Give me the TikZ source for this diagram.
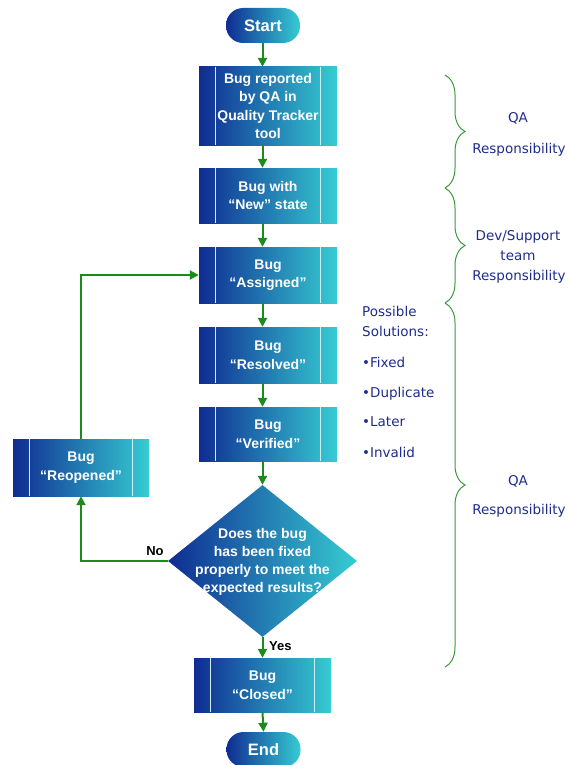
\documentclass[tikz,border=0pt]{standalone}
\usepackage{fontspec}
\setmainfont{Liberation Sans}
\newfontfamily\notefont{DejaVu Sans}
\usetikzlibrary{shapes.geometric,arrows.meta,decorations.pathreplacing}

\definecolor{bugdark}{HTML}{0F2C92}
\definecolor{bugcyan}{HTML}{36CCD2}
\definecolor{flowgreen}{HTML}{1C8A1C}
\definecolor{bracegreen}{HTML}{3C9A3C}
\definecolor{notenavy}{HTML}{1E2C8E}

\tikzset{
    bugbox/.style={rectangle, minimum width=138pt, minimum height=#1, inner sep=0pt,
        left color=bugdark, right color=bugcyan, text=white, align=center,
        font=\bfseries\fontsize{14}{18.5}\selectfont,
        path picture={
            \draw[white!80!cyan, line width=1.2pt] ([xshift=16.5pt]path picture bounding box.north west) -- ([xshift=16.5pt]path picture bounding box.south west);
            \draw[white!80!cyan, line width=1.2pt] ([xshift=-16.5pt]path picture bounding box.north east) -- ([xshift=-16.5pt]path picture bounding box.south east);
        }},
    terminal/.style={rectangle, rounded corners=17pt, minimum width=74pt, minimum height=35pt,
        left color=bugdark, right color=bugcyan, text=white,
        font=\bfseries\fontsize{16.5}{18}\selectfont},
    decision/.style={diamond, minimum width=189pt, minimum height=152pt, inner sep=0pt,
        left color=bugdark, right color=bugcyan},
    decisiontext/.style={text=white, align=center, font=\bfseries\fontsize{14}{18}\selectfont},
    flow/.style={draw=flowgreen, line width=2pt, -{Triangle[width=9pt,length=9pt]}},
    answer/.style={font=\bfseries\fontsize{13}{15}\selectfont, inner sep=1pt},
    note/.style={text=notenavy, font=\notefont\fontsize{13.5}{20}\selectfont, inner sep=0pt},
    respbrace/.style={draw=bracegreen, line width=1pt, decorate, decoration={brace, amplitude=20pt}}
}

\begin{document}
\begin{tikzpicture}[x=1pt, y=-1pt]
        \useasboundingbox (0,0) rectangle (568,765);

        \node[terminal] (start) at (263,25.5) {Start};
        \node[bugbox=78pt] (reported) at (268,106) {Bug reported\\by QA in\\Quality Tracker\\tool};
        \node[bugbox=55pt] (new) at (268,195.5) {Bug with\\“New” state};
        \node[bugbox=56pt] (assigned) at (268,275) {Bug\\“Assigned”};
        \node[bugbox=56pt] (resolved) at (268,355) {Bug\\“Resolved”};
        \node[bugbox=54pt] (verified) at (268,434) {Bug\\“Verified”};
        \node[decision] (check) at (262.5,561) {};
        \node[decisiontext] (checktext) at (262.5,562) {Does the bug\\has been fixed\\properly to meet the\\expected results?};
        \node[bugbox=57pt, minimum width=136pt] (reopened) at (81,467.5) {Bug\\“Reopened”};
        \node[bugbox=54pt, minimum width=137pt] (closed) at (262.5,685) {Bug\\“Closed”};
        \node[terminal] (end) at (263.5,749.5) {End};
        \coordinate (spine) at (262.5,0);

        \draw[flow] (spine |- start.south) -- (spine |- reported.north);
        \draw[flow] (spine |- reported.south) -- (spine |- new.north);
        \draw[flow] (spine |- new.south) -- (spine |- assigned.north);
        \draw[flow] (spine |- assigned.south) -- (spine |- resolved.north);
        \draw[flow] (spine |- resolved.south) -- (spine |- verified.north);
        \draw[flow] (spine |- verified.south) -- (check.north);
        \draw[flow] (check.south) -- (closed.north);
        \draw[flow] (closed.south) -- (end.north);
        \draw[flow] (check.west) -| (reopened.south);
        \draw[flow] (reopened.north) |- (assigned.west);

        \node[answer, anchor=south east] (no) at ([xshift=-3pt,yshift=4pt]check.west) {No};
        \node[answer, anchor=west] (yes) at ([xshift=5.5pt,yshift=-9pt]check.south) {Yes};

        %responsibilities
        \draw[respbrace] (445,75) -- (445,188);
        \draw[respbrace] (445,188) -- (445,303);
        \draw[respbrace] (445,303) -- (445,667);

        \node[note, anchor=base] (qa1) at (518,123) {QA};
        \node[note, anchor=base] (resp1) at (519,153) {Responsibility};
        \node[note, anchor=base] (dev) at (518,240) {Dev/Support};
        \node[note, anchor=base] (team) at (518,260) {team};
        \node[note, anchor=base] (resp2) at (519,280) {Responsibility};
        \node[note, anchor=base] (qa2) at (518,485) {QA};
        \node[note, anchor=base] (resp3) at (519,514) {Responsibility};

        %solutions
        \node[note, anchor=base west] (sol1) at (362,316) {Possible};
        \node[note, anchor=base west] (sol2) at (362,336) {Solutions:};
        \node[note, anchor=base west] (fixed) at (362,367) {•Fixed};
        \node[note, anchor=base west] (duplicate) at (362,397) {•Duplicate};
        \node[note, anchor=base west] (later) at (362,426) {•Later};
        \node[note, anchor=base west] (invalid) at (362,457) {•Invalid};
\end{tikzpicture}
\end{document}
